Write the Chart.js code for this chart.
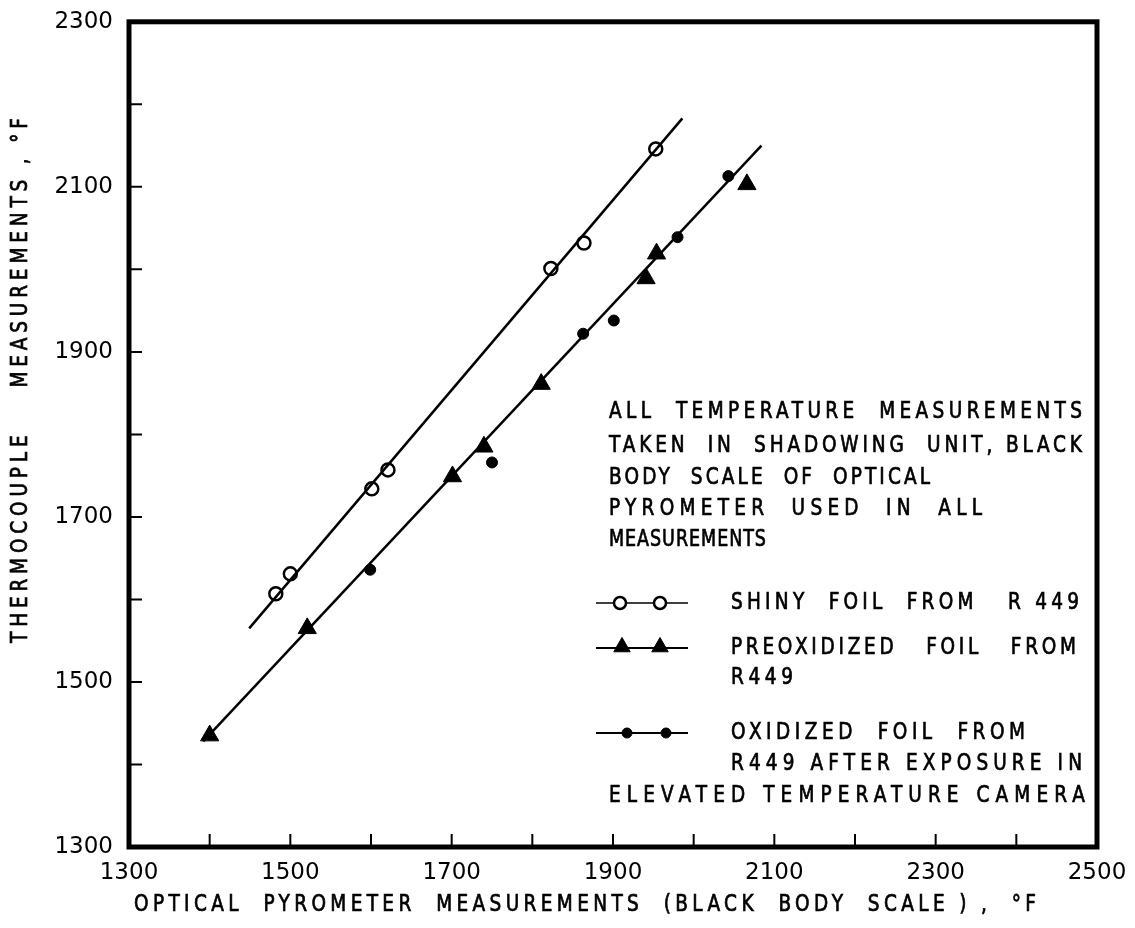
<!DOCTYPE html>
<html>
<head>
<meta charset="utf-8">
<script src="https://cdn.jsdelivr.net/npm/chart.js@4.4.1/dist/chart.umd.min.js"></script>
<style>
  body { margin: 0; background: #fff; }
  #wrap { width: 1135px; height: 928px; }
</style>
</head>
<body>
<div id="wrap"><canvas id="chart" width="1135" height="928"></canvas></div>
<script>
// Okunan veriler (grafikten tahmini)
const shinyX = [1482, 1500, 1601, 1621, 1823, 1864, 1953];
const shinyY = [1607, 1631, 1734, 1757, 2001, 2032, 2146];

const preoxX = [1400, 1521, 1701, 1740, 1811, 1941, 1954, 2066];
const preoxY = [1435, 1565, 1749, 1785, 1861, 1989, 2019, 2103];

const oxX = [1599, 1750, 1863, 1901, 1980, 2043];
const oxY = [1636, 1766, 1922, 1938, 2039, 2113];

// Çizilen doğruların uç noktaları
const shinyFitX = [1449, 1986];
const shinyFitY = [1565, 2183];
const oxFitX = [1392, 2084];
const oxFitY = [1428, 2150];

const xTicks = [1300, 1500, 1700, 1900, 2100, 2300, 2500];
const yTicks = [1300, 1500, 1700, 1900, 2100, 2300];

const xTitle = 'OPTICAL  PYROMETER  MEASUREMENTS  (BLACK  BODY  SCALE ) ,  \u00B0F';
const yTitle = 'THERMOCOUPLE    MEASUREMENTS , \u00B0F';

const noteLines = [
    'ALL  TEMPERATURE  MEASUREMENTS',
    'TAKEN  IN  SHADOWING  UNIT, BLACK',
    'BODY  SCALE  OF  OPTICAL',
    'PYROMETER  USED  IN  ALL',
    'MEASUREMENTS'
];
const legendLines = [
    ['SHINY  FOIL  FROM   R 449'],
    ['PREOXIDIZED   FOIL   FROM', 'R449'],
    ['OXIDIZED  FOIL  FROM', 'R449 AFTER EXPOSURE IN', 'ELEVATED TEMPERATURE CAMERA']
];

const FONT = '"DejaVu Sans", sans-serif';

function pts(xs, ys) {
    return xs.map((x, i) => ({ x: x, y: ys[i] }));
}

// Metni verilen genişliğe yay; sığmazsa yatayda daralt
function fitText(ctx, text, x, y, width) {
    ctx.save();
    ctx.letterSpacing = '0px';
    const w = ctx.measureText(text).width;
    const gaps = Math.max(1, text.length - 1);
    let ls = (width - w) / gaps;
    let sx = 1;
    if (ls < 1) {
        ls = 1;
        sx = width / (w + gaps * ls);
    }
    ctx.letterSpacing = ls + 'px';
    ctx.translate(x, y);
    ctx.scale(sx, 1.2);
    ctx.fillText(text, 0, 0);
    ctx.lineWidth = 0.6;
    ctx.strokeText(text, 0, 0);
    ctx.restore();
}

const markerStyles = {
    shiny: { pointStyle: 'circle', radius: 6.5, borderWidth: 2.5, fill: '#fff' },
    preox: { pointStyle: 'triangle', radius: 10.5, borderWidth: 1, fill: '#000' },
    ox: { pointStyle: 'circle', radius: 5.5, borderWidth: 1, fill: '#000' }
};

const decorPlugin = {
    id: 'decor',
    afterDatasetsDraw(chart) {
        const ctx = chart.ctx;
        const a = chart.chartArea;
        const xs = chart.scales.x;
        const ys = chart.scales.y;
        ctx.save();

        // Çerçeve
        ctx.strokeStyle = '#000';
        ctx.lineWidth = 5;
        ctx.strokeRect(a.left, a.top, a.right - a.left, a.bottom - a.top);

        // İçe dönük tik çizgileri
        ctx.lineWidth = 2;
        ctx.beginPath();
        xs.ticks.forEach(t => {
            const px = xs.getPixelForValue(t.value);
            if (px <= a.left + 3 || px >= a.right - 3) return;
            ctx.moveTo(px, a.bottom);
            ctx.lineTo(px, a.bottom - 13);
        });
        ys.ticks.forEach(t => {
            const py = ys.getPixelForValue(t.value);
            if (py <= a.top + 3 || py >= a.bottom - 3) return;
            ctx.moveTo(a.left, py);
            ctx.lineTo(a.left + 13, py);
        });
        ctx.stroke();

        ctx.fillStyle = '#000';
        ctx.strokeStyle = '#000';
        ctx.font = '18.5px ' + FONT;
        ctx.textBaseline = 'middle';
        ctx.textAlign = 'left';

        // Eksen başlıkları
        fitText(ctx, xTitle, 134, 905, 902);
        ctx.save();
        ctx.translate(21, 643);
        ctx.rotate(-Math.PI / 2);
        fitText(ctx, yTitle, 0, 0, 525);
        ctx.restore();

        // Not metni
        const noteRight = [1082, 1082, 930, 982, 766];
        const noteY = [412, 446, 478, 509, 540];
        noteLines.forEach((t, i) => fitText(ctx, t, 609, noteY[i], noteRight[i] - 609));

        // Açıklama metinleri
        const legTexts = [
            [[731, 603, 1079]],
            [[731, 648, 1076], [731, 678, 793]],
            [[731, 733, 1025], [731, 764, 1082], [609, 796, 1085]]
        ];
        legendLines.forEach((lines, i) => {
            lines.forEach((t, j) => {
                const p = legTexts[i][j];
                fitText(ctx, t, p[0], p[1], p[2] - p[0]);
            });
        });

        // Açıklama sembolleri
        const symRows = [
            { y: 603, xs: [620, 660], st: markerStyles.shiny, lw: 1.5, r: 6 },
            { y: 648, xs: [622, 660], st: markerStyles.preox, lw: 2, r: 9.5 },
            { y: 733, xs: [627, 666], st: markerStyles.ox, lw: 2, r: 5 }
        ];
        symRows.forEach((row, i) => {
            ctx.strokeStyle = '#000';
            ctx.lineWidth = row.lw;
            ctx.beginPath();
            ctx.moveTo(596, row.y);
            ctx.lineTo(688, row.y);
            ctx.stroke();
            row.xs.forEach(px => {
                ctx.fillStyle = row.st.fill;
                ctx.lineWidth = row.st.borderWidth;
                ctx.strokeStyle = '#000';
                Chart.helpers.drawPoint(ctx, {
                    pointStyle: row.st.pointStyle,
                    radius: row.r,
                    rotation: 0,
                    borderWidth: row.st.borderWidth
                }, px, i === 1 ? row.y - 1 : row.y);
            });
        });
        ctx.restore();
    }
};

function markerDataset(label, data, st) {
    return {
        label: label,
        data: data,
        showLine: false,
        pointStyle: st.pointStyle,
        pointRadius: st.radius,
        pointHoverRadius: st.radius,
        pointBorderWidth: st.borderWidth,
        pointBackgroundColor: st.fill,
        pointBorderColor: '#000'
    };
}

function lineDataset(label, data) {
    return {
        label: label,
        data: data,
        showLine: true,
        borderColor: '#000',
        borderWidth: 2.5,
        pointRadius: 0,
        fill: false
    };
}

const ctx = document.getElementById('chart');
new Chart(ctx, {
    type: 'scatter',
    data: {
        datasets: [
            lineDataset('shiny fit', pts(shinyFitX, shinyFitY)),
            lineDataset('oxidized fit', pts(oxFitX, oxFitY)),
            markerDataset('SHINY FOIL FROM R 449', pts(shinyX, shinyY), markerStyles.shiny),
            markerDataset('PREOXIDIZED FOIL FROM R449', pts(preoxX, preoxY), markerStyles.preox),
            markerDataset('OXIDIZED FOIL FROM R449', pts(oxX, oxY), markerStyles.ox)
        ]
    },
    options: {
        responsive: false,
        animation: false,
        layout: {
            padding: { left: 0, top: 20, right: 38, bottom: 0 }
        },
        plugins: {
            legend: { display: false },
            tooltip: { enabled: false }
        },
        scales: {
            x: {
                type: 'linear',
                min: 1300,
                max: 2500,
                afterFit: function(scale) { scale.height = 81; },
                grid: { display: false },
                border: { display: false },
                ticks: {
                    stepSize: 100,
                    autoSkip: false,
                    maxRotation: 0,
                    padding: 4,
                    color: '#000',
                    font: { family: FONT, size: 23 },
                    callback: function(value) {
                        return xTicks.includes(value) ? String(value) : '';
                    }
                }
            },
            y: {
                type: 'linear',
                min: 1300,
                max: 2300,
                afterFit: function(scale) { scale.width = 129; },
                grid: { display: false },
                border: { display: false },
                ticks: {
                    stepSize: 100,
                    autoSkip: false,
                    padding: 8,
                    color: '#000',
                    font: { family: FONT, size: 23 },
                    callback: function(value) {
                        return yTicks.includes(value) ? String(value) : '';
                    }
                }
            }
        }
    },
    plugins: [decorPlugin]
});
</script>
</body>
</html>
